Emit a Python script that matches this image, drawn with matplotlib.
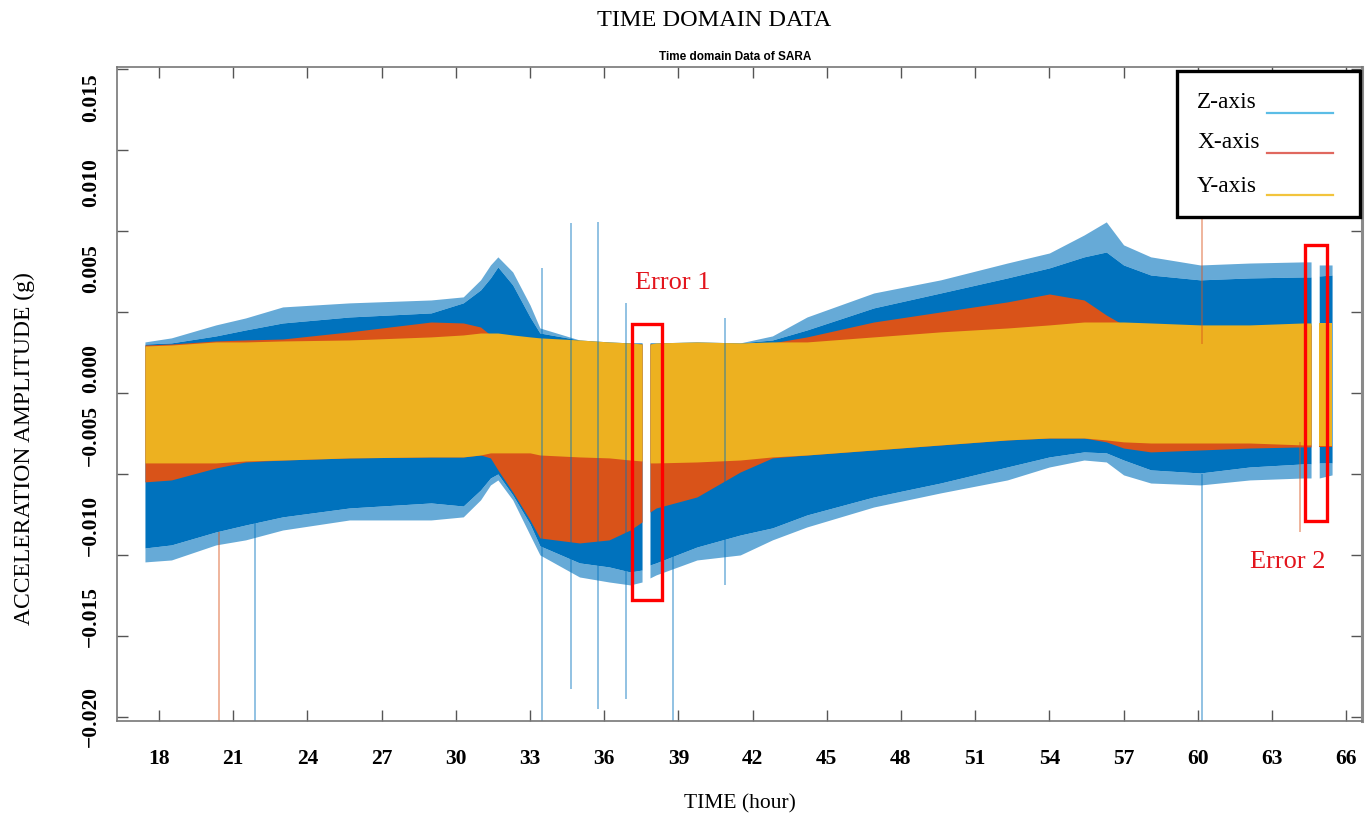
import numpy as np
import matplotlib.pyplot as plt
from matplotlib.patches import Rectangle
from matplotlib.lines import Line2D
from matplotlib.transforms import blended_transform_factory

SERIF = ["Liberation Serif", "DejaVu Serif"]

# time axis of the envelope readings (hours)
t_hr = [17.43, 18.5, 20.3, 21.5, 23.0, 25.7, 29.0, 30.3, 31.0, 31.4, 31.7, 32.3,
        33.0, 33.4, 35.0, 36.2, 37.05, 37.53, 37.85, 38.1, 39.75, 41.5, 42.8,
        44.2, 46.9, 49.6, 52.3, 54.0, 55.4, 56.3, 57.0, 58.1, 60.1, 62.1, 64.26,
        64.58, 64.91, 65.43]

# envelope of each channel (milli-g)
z_top = [-1.98, -1.91, -1.48, -1.11, -0.68, -0.31, -0.06, 0.56, 1.36, 2.10, 2.78, 1.67,
         -0.31, -1.30, -1.73, -1.85, -1.91, -1.91, -1.91, -1.91, -1.85, -1.91, -1.73,
         -1.11, 0.25, 1.17, 2.10, 2.72, 3.40, 3.70, 2.90, 2.28, 1.98, 2.10, 2.16,
         2.16, 2.22, 2.28]
z_top_peak = [-1.85, -1.60, -0.80, -0.37, 0.31, 0.56, 0.74, 0.93, 1.98, 2.90, 3.40, 2.47,
              0.43, -0.99, -1.73, -1.85, -1.91, -1.91, -1.91, -1.91, -1.85, -1.91, -1.48,
              -0.31, 1.17, 1.98, 3.02, 3.64, 4.75, 5.56, 4.14, 3.40, 2.90, 3.02, 3.09,
              3.09, 2.90, 2.90]
z_bot = [-14.57, -14.38, -13.58, -13.15, -12.65, -12.10, -11.79, -11.98, -10.99, -10.25,
         -10.00, -11.30, -13.09, -14.44, -15.49, -15.74, -16.05, -15.93, -15.62, -15.49,
         -14.51, -13.77, -13.33, -12.53, -11.42, -10.56, -9.57, -8.95, -8.64, -8.70,
         -9.14, -9.75, -9.94, -9.57, -9.38, -9.38, -9.32, -9.32]
z_bot_peak = [-15.43, -15.31, -14.38, -14.07, -13.46, -12.84, -12.84, -12.65, -11.60,
              -10.68, -10.37, -11.60, -13.77, -15.00, -16.36, -16.67, -16.85, -16.67,
              -16.42, -16.23, -15.31, -15.00, -14.07, -13.27, -12.04, -11.17, -10.37,
              -9.57, -9.14, -9.26, -10.06, -10.56, -10.68, -10.37, -10.25, -10.25,
              -10.25, -10.06]
x_top = [-2.04, -1.98, -1.79, -1.73, -1.67, -1.23, -0.62, -0.68, -0.93, -1.42, -1.42, -1.48,
         -1.60, -1.67, -1.79, -1.91, -1.98, -1.98, -1.98, -1.98, -1.91, -1.98, -1.91,
         -1.54, -0.62, 0.00, 0.62, 1.11, 0.74, -0.19, -0.80, -0.80, -0.93, -0.93, -0.80,
         -0.80, -0.80, -0.80]
x_bot = [-10.49, -10.37, -9.63, -9.26, -9.14, -9.01, -8.95, -8.95, -8.83, -9.01, -9.75,
         -11.11, -12.84, -13.95, -14.26, -14.07, -13.46, -12.96, -12.35, -12.10, -11.42,
         -9.88, -9.01, -8.83, -8.52, -8.21, -7.90, -7.78, -7.78, -8.02, -8.40, -8.64,
         -8.52, -8.40, -8.33, -8.33, -8.33, -8.33]
y_top = [-2.10, -2.04, -1.85, -1.85, -1.79, -1.73, -1.54, -1.42, -1.30, -1.30, -1.30, -1.42,
         -1.54, -1.60, -1.73, -1.85, -1.91, -1.98, -1.98, -1.91, -1.85, -1.91, -1.85,
         -1.85, -1.54, -1.23, -0.99, -0.80, -0.62, -0.62, -0.62, -0.68, -0.80, -0.80,
         -0.68, -0.68, -0.68, -0.68]
y_bot = [-9.32, -9.32, -9.32, -9.20, -9.14, -9.01, -8.95, -8.95, -8.83, -8.70, -8.70, -8.70,
         -8.70, -8.83, -8.95, -9.01, -9.14, -9.20, -9.32, -9.32, -9.26, -9.14, -8.95,
         -8.83, -8.52, -8.21, -7.90, -7.78, -7.78, -7.90, -8.02, -8.09, -8.09, -8.09,
         -8.21, -8.21, -8.27, -8.27]

# recorded stretches (hours); the holes between them are the two errors
segments = [(17.43, 37.53), (37.85, 64.58), (64.91, 65.43)]

# isolated spikes: time (h), low / high end (milli-g), channel
spike_t = [20.43, 21.88, 33.48, 34.65, 35.75, 36.87, 38.78, 40.89, 60.18, 60.18, 64.14]
spike_lo = [-26.0, -26.0, -26.0, -23.3, -24.5, -23.9, -26.0, -16.85, -26.0, -2.0, -13.6]
spike_hi = [-13.6, -13.0, 2.72, 5.49, 5.56, 0.56, -15.0, -0.37, -10.0, 5.80, -8.0]
spike_ch = ["X", "Z", "Z", "Z", "Z", "Z", "Z", "Z", "Z", "X", "X"]

# red "error" frames: (t0, t1, low, high) in hours / milli-g
error_boxes = [(37.11, 38.33, -17.78, -0.74), (64.34, 65.24, -12.90, 4.14)]

colors = {"Z": "#0072BD", "X": "#D95319", "Y": "#EDB120"}
legend_colors = {"Z": "#5BBDE6", "X": "#E0685F", "Y": "#F2C43C"}

ytick_text = ["0.015", "0.010", "0.005", "0.000", "\u22120.005", "\u22120.010",
              "\u22120.015", "\u22120.020"]
ytick_text_at = [13.2, 8.0, 2.7, -3.5, -7.6, -13.2, -18.8, -25.0]   # where the labels sit (mg)

fig = plt.figure(figsize=(13.68, 8.14), dpi=100)
ax = fig.add_axes([117 / 1368, 1 - 721 / 814, 1245 / 1368, 654 / 814])

t = np.array(t_hr)
g = lambda a: np.array(a) * 1e-3

for s0, s1 in segments:
    m = (t >= s0 - 1e-9) & (t <= s1 + 1e-9)
    ax.fill_between(t[m], g(z_top)[m], g(z_top_peak)[m], color=colors["Z"], alpha=0.6, lw=0)
    ax.fill_between(t[m], g(z_bot_peak)[m], g(z_bot)[m], color=colors["Z"], alpha=0.6, lw=0)
    ax.fill_between(t[m], g(z_bot)[m], g(z_top)[m], color=colors["Z"], lw=0)
    ax.fill_between(t[m], g(x_bot)[m], g(x_top)[m], color=colors["X"], lw=0)
    ax.fill_between(t[m], g(y_bot)[m], g(y_top)[m], color=colors["Y"], lw=0)

for ts, lo, hi, ch in zip(spike_t, spike_lo, spike_hi, spike_ch):
    ax.vlines(ts, lo * 1e-3, hi * 1e-3, color=colors[ch], alpha=0.5, lw=1.2, zorder=1)

for t0, t1, lo, hi in error_boxes:
    ax.add_patch(Rectangle((t0, lo * 1e-3), t1 - t0, (hi - lo) * 1e-3, fill=False,
                           ec="#ff0000", lw=2.4, zorder=5))

ax.text(38.78, 0.00181, "Error 1", color="#e3141c", fontsize=19, family=SERIF,
        ha="center", va="center")
ax.text(63.65, -0.01542, "Error 2", color="#e3141c", fontsize=19, family=SERIF,
        ha="center", va="center")

ax.set_xlim(16.30, 66.64)
ax.set_ylim(-0.02525, 0.01512)
ax.set_xticks(np.arange(18, 67, 3))
ax.set_yticks(np.arange(-0.025, 0.0151, 0.005))
ax.set_yticklabels([])
ax.tick_params(direction="in", length=8, width=1.0, color="#555555",
               top=True, right=True, labelsize=15.5, pad=20)
for lab in ax.get_xticklabels():
    lab.set_fontfamily(SERIF)
    lab.set_fontweight("bold")
for side in ["left", "top", "bottom"]:
    ax.spines[side].set_color("#777777")
    ax.spines[side].set_linewidth(1.2)
ax.spines["right"].set_color("#8a8a8a")
ax.spines["right"].set_linewidth(2.2)

trans = blended_transform_factory(ax.transAxes, ax.transData)
for txt, yv in zip(ytick_text, ytick_text_at):
    ax.text(-0.0209, yv * 1e-3, txt, transform=trans, rotation=90, ha="center",
            va="center", fontsize=15.5, fontweight="bold", family=SERIF, clip_on=False)

ax.set_xlabel("TIME (hour)", fontsize=15.5, family=SERIF, labelpad=18)
fig.text(24 / 1368, 1 - 449 / 814, "ACCELERATION AMPLITUDE (g)", rotation=90,
         ha="center", va="center", fontsize=17, family=SERIF)
fig.text(714 / 1368, 1 - 20 / 814, "TIME DOMAIN DATA", ha="center", va="center",
         fontsize=17.5, family=SERIF)
fig.text(735 / 1368, 1 - 57 / 814, "Time domain Data of SARA", ha="center",
         va="center", fontsize=8.5, fontweight="bold", family=["Liberation Sans", "DejaVu Sans"])

# hand-drawn legend box
fig.add_artist(Rectangle((1177 / 1368, 1 - 217 / 814), 183 / 1368, 146 / 814,
                         transform=fig.transFigure, fill=True, fc="white", ec="black",
                         lw=2.4, zorder=10))
for i, (name, ch) in enumerate([("Z-axis", "Z"), ("X-axis", "X"), ("Y-axis", "Y")]):
    yc = [103, 143, 187][i]
    yl = [113, 153, 195][i]
    fig.text(1197 / 1368, 1 - yc / 814, name, ha="left", va="center", fontsize=16.8,
             family=SERIF, zorder=11)
    fig.add_artist(Line2D([1267 / 1368, 1333 / 1368], [1 - yl / 814, 1 - yl / 814],
                          transform=fig.transFigure, color=legend_colors[ch], lw=1.6,
                          zorder=11))

fig.savefig("out.png", dpi=100)
